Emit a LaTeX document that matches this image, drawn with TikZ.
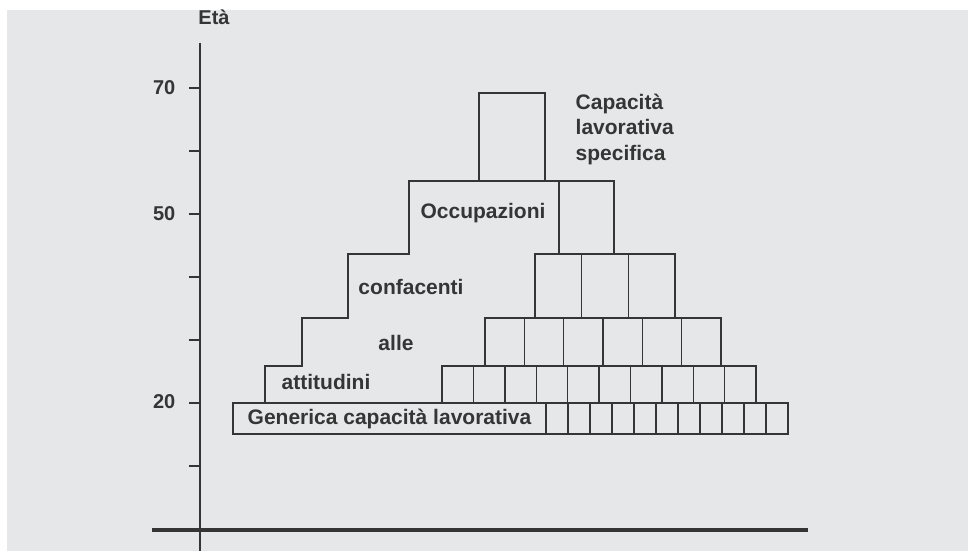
\documentclass[tikz,border=0pt]{standalone}
\usepackage{fontspec}
\setmainfont{Liberation Sans}
\usetikzlibrary{positioning}
\definecolor{bg}{HTML}{E6E7E9}
\definecolor{ink}{HTML}{353535}

\tikzset{
  cell/.style={draw=ink, inner sep=0pt, outer sep=0pt, line width=1.4pt},
  lbl/.style={font=\bfseries\fontsize{21}{25.5}\selectfont, text=ink, inner sep=0pt},
  agelbl/.style={font=\bfseries\fontsize{20}{22}\selectfont, text=ink, inner sep=0pt, anchor=east}
}

\begin{document}
\begin{tikzpicture}[x=1pt, y=-1pt, line width=1.4pt]
    \useasboundingbox (0,0) rectangle (968,551);
    \fill[bg] (7,10) rectangle (968,551);
    % axes
    \coordinate (ytop) at (200,43);
    \coordinate (ybot) at (200,551);
    \coordinate (xl) at (152,530);
    \coordinate (xr) at (808,530);
    \draw[ink, line width=2.6pt] (ytop) -- (ybot);
    \draw[ink, line width=3.4pt] (xl) -- (xr);
    \foreach \a in {10,20,...,70}
        \draw[ink, line width=1.6pt] (189,529-6.3*\a) -- (200,529-6.3*\a);
    \node[agelbl] (a70) at (176,88) {70};
    \node[agelbl] (a50) at (176,214) {50};
    \node[agelbl] (a20) at (176,402) {20};
    \node[agelbl, anchor=center] (eta) at (214,17) {Età};
    % bottom row
    \node[cell, lbl, minimum width=313pt, minimum height=31pt] (generica) at (389.5,418.5) {Generica capacità lavorativa};
    \foreach \i in {0,...,10}
        \node[cell, minimum width=22pt, minimum height=31pt] (r1c\i) at (557+22*\i,418.5) {};
    % rows of cells
    \foreach \i in {0,...,9}
        \node[cell, minimum width=31.4pt, minimum height=37pt] (r2c\i) at (457.7+31.4*\i,384.5) {};
    \foreach \i in {0,...,5}
        \node[cell, minimum width=39.33pt, minimum height=48pt] (r3c\i) at (504.7+39.33*\i,342) {};
    \foreach \i in {0,...,2}
        \node[cell, minimum width=46.67pt, minimum height=64pt] (r4c\i) at (558.3+46.67*\i,286) {};
    \node[cell, minimum width=55pt, minimum height=73pt] (r5c0) at (586.5,217.5) {};
    \node[cell, minimum width=66pt, minimum height=88pt] (top) at (512,137) {};
    % staircase
    \draw[ink] (265,403) -- (265,366) -- (302,366) -- (302,318) -- (348,318)
        -- (348,254) -- (409,254) -- (409,181) -- (r5c0.north west);
    % labels
    \node[lbl] (occ) at (483,213) {Occupazioni};
    \node[lbl] (conf) at (411,287) {confacenti};
    \node[lbl] (alle) at (396,343) {alle};
    \node[lbl] (att) at (326,382) {attitudini};
    \node[lbl, anchor=north west, align=left] (spec) at (575,93) {Capacità\\lavorativa\\specifica};
\end{tikzpicture}
\end{document}
